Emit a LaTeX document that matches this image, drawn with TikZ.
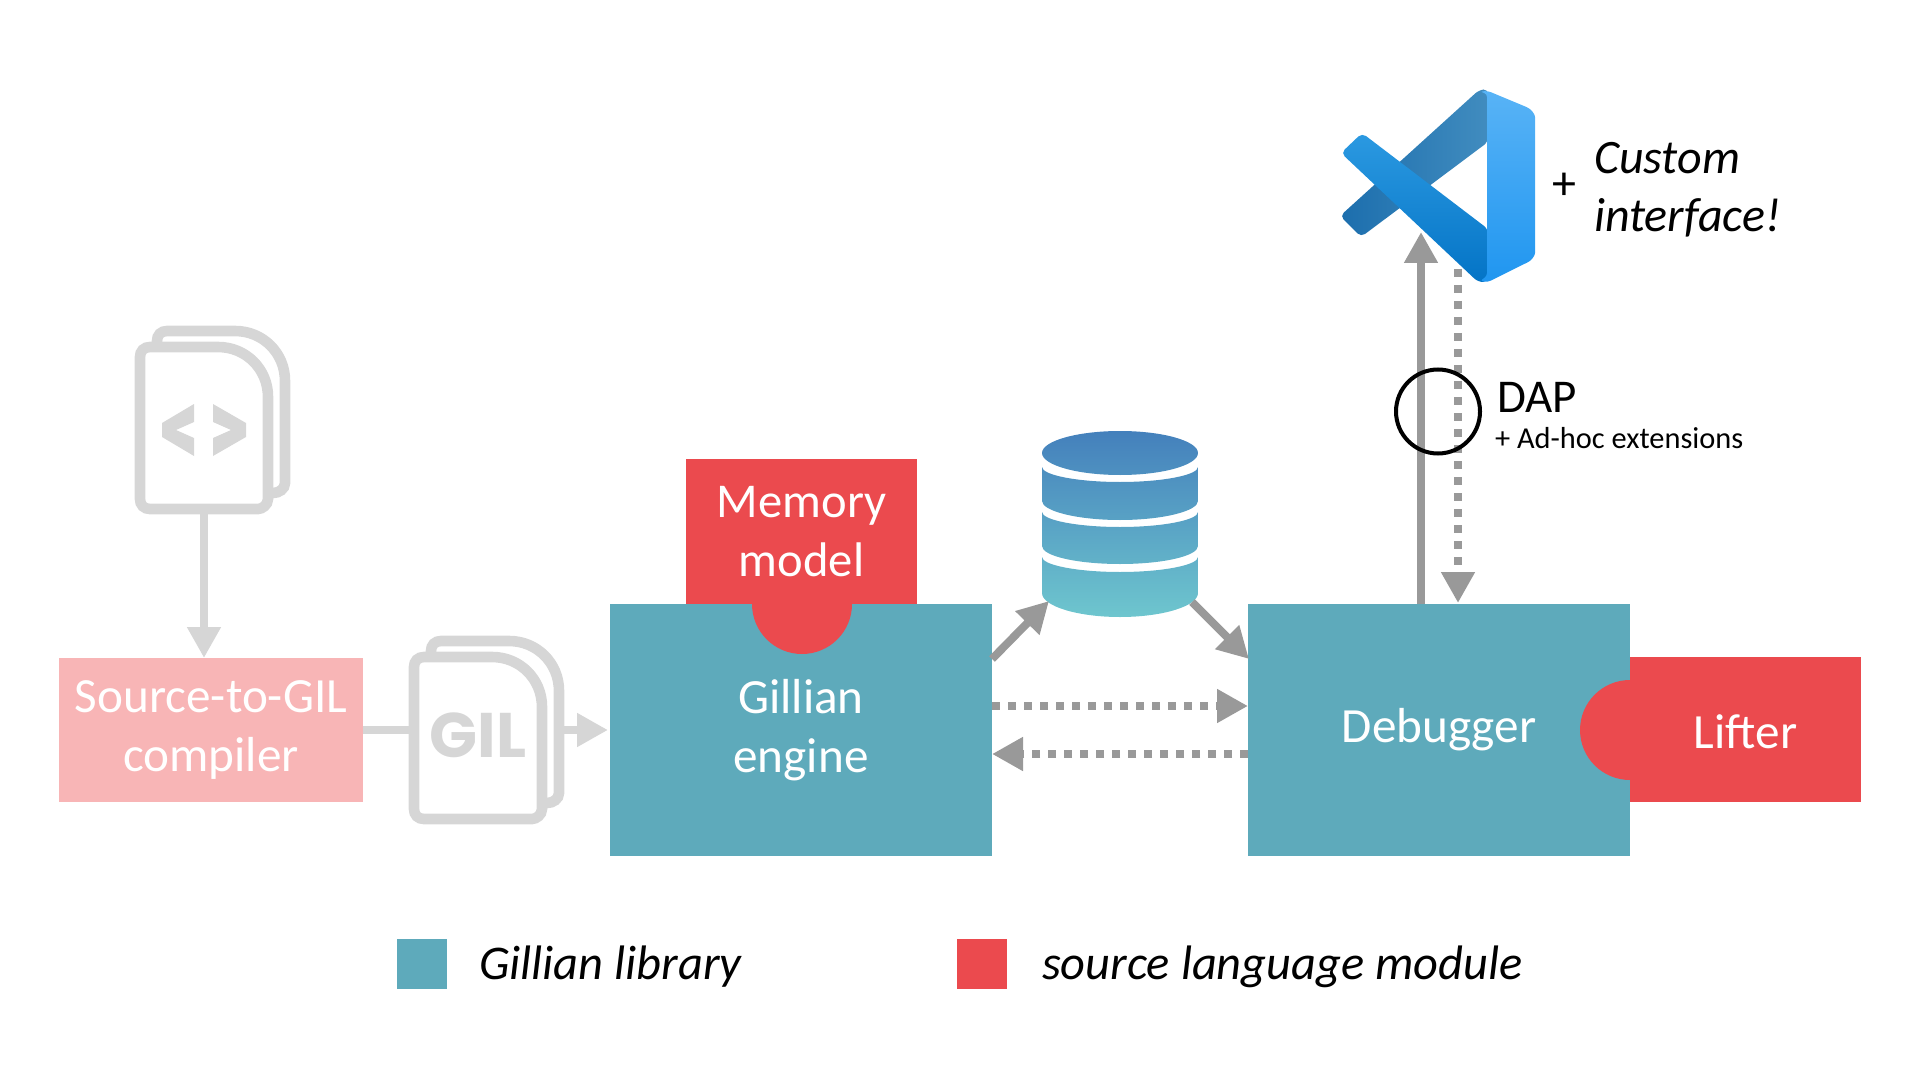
\documentclass[tikz,border=0pt]{standalone}
\usepackage{fontspec}
\setmainfont{Carlito}
\newfontfamily\gilfont{Poppins}
\usetikzlibrary{arrows.meta,calc}
\definecolor{teal1}{HTML}{5EAABB}
\definecolor{red1}{HTML}{EB4A4E}
\definecolor{pink1}{HTML}{F8B5B6}
\definecolor{docgray}{HTML}{D6D6D6}
\definecolor{arrgray}{HTML}{999999}
\definecolor{dbtop}{HTML}{4480BC}
\definecolor{dbbot}{HTML}{6EC6CE}
\definecolor{vsdarkL}{HTML}{1C6EAD}
\definecolor{vsdarkM}{HTML}{2A78B2}
\definecolor{vsdarkR}{HTML}{418CBF}
\definecolor{vsfrontT}{HTML}{2B99E1}
\definecolor{vsfrontB}{HTML}{0474C6}
\definecolor{vspanelT}{HTML}{58B3F6}
\definecolor{vspanelB}{HTML}{2096F0}
\tikzset{
  px/.style={x=0.5pt,y=-0.5pt},
  blockbox/.style={fill=#1,text=white,align=center,inner sep=0pt,outer sep=0pt,
    font=\fontsize{24.6}{29.6}\selectfont},
  bigbox/.style={blockbox=teal1,minimum width=191pt,minimum height=126pt},
  modbox/.style={blockbox=#1,minimum width=115.5pt,minimum height=72.5pt},
  notch/.style={circle,fill=red1,minimum size=50pt,inner sep=0pt},
  ghostbox/.style={inner sep=0pt,outer sep=0pt,minimum width=69pt,minimum height=86pt},
  tipbig/.style={-{Triangle[length=15.5pt,width=16pt]}},
  solidarrow/.style={draw=arrgray,line width=4pt,tipbig},
  dotarrow/.style={draw=arrgray,line width=4pt,tipbig,dash pattern=on 4pt off 4pt},
  grayarrow/.style={draw=docgray,line width=4pt},
  plain/.style={inner sep=0pt,outer sep=0pt},
  docpage/.pic={
    \draw[docgray,line width=5.3pt]
      (10,0) -- (78,0) .. controls (106,0) and (128,22) .. (128,50) -- (128,152)
      .. controls (128,158) and (122,162) .. (118,162) -- (10,162)
      .. controls (4,162) and (0,158) .. (0,152) -- (0,10)
      .. controls (0,4) and (4,0) .. (10,0) -- cycle;
    \draw[docgray,line width=5.3pt]
      (17,-5) -- (17,-6) .. controls (17,-12) and (21,-16) .. (27,-16) -- (95,-16)
      .. controls (123,-16) and (145,6) .. (145,34) -- (145,136)
      .. controls (145,142) and (139,146) .. (133,146) -- (128,146);
  }
}
\begin{document}
\begin{tikzpicture}[px]
\useasboundingbox (0,0) rectangle (1920,1080);
% blocks
\node[bigbox] (engine) at (801,730) {Gillian\\engine};
\node[bigbox,text depth=5.6pt,text height=18pt] (debugger) at (1439,730) {Debugger};
\node[notch] (memnotch) at (802,604) {};
\node[modbox=red1,font=\fontsize{24.3}{29.7}\selectfont] (memory) at (801.5,531.5) {Memory\\model};
\node[notch] (liftnotch) at (1630,730) {};
\node[modbox=red1,text height=19pt,text depth=0pt] (lifter) at (1745.5,729.5) {Lifter};
\node[blockbox=pink1,minimum width=152pt,minimum height=72pt] (source) at (211,730) {Source-to-GIL\\compiler};
% documents
\pic at (140,347) {docpage};
\pic at (414,657) {docpage};
\node[ghostbox] (srcdoc) at (204,428) {};
\node[ghostbox] (gildoc) at (478,738) {};
\coordinate (gilright) at (564,730);
\node[plain,text=docgray] (giltext) at (478,735) {\fontsize{31.5}{31.5}\selectfont\gilfont\bfseries GIL};
\fill[docgray] (194,404) -- (162,423) -- (162,437) -- (194,456) -- (194,438) -- (176,430) -- (194,422) -- cycle;
\fill[docgray] (213,404) -- (246,423) -- (246,437) -- (213,456) -- (213,438) -- (231,430) -- (213,422) -- cycle;
% gray flows
\draw[grayarrow,tipbig] (srcdoc.south) -- (srcdoc.south |- source.north);
\draw[grayarrow] (source.east) -- (gildoc.west |- source.east);
\draw[grayarrow,tipbig,shorten >=1pt] (gilright) -- (engine.west);
% database
\begin{scope}
\clip (1042,453) .. controls (1042,441) and (1077,431) .. (1120,431) .. controls (1163,431) and (1198,441) .. (1198,453)
  .. controls (1198,465) and (1163,475) .. (1120,475) .. controls (1077,475) and (1042,465) .. (1042,453) -- cycle
  (1042,467) .. controls (1042,475) and (1077,482) .. (1120,482) .. controls (1163,482) and (1198,475) .. (1198,467)
  -- (1198,501) .. controls (1198,511) and (1163,520) .. (1120,520) .. controls (1077,520) and (1042,511) .. (1042,501) -- cycle
  (1042,512) .. controls (1042,520) and (1077,527) .. (1120,527) .. controls (1163,527) and (1198,520) .. (1198,512)
  -- (1198,546) .. controls (1198,556) and (1163,564) .. (1120,564) .. controls (1077,564) and (1042,556) .. (1042,546) -- cycle
  (1042,557) .. controls (1042,565) and (1077,572) .. (1120,572) .. controls (1163,572) and (1198,565) .. (1198,557)
  -- (1198,593) .. controls (1198,606) and (1163,617) .. (1120,617) .. controls (1077,617) and (1042,606) .. (1042,593) -- cycle;
\shade[top color=dbtop,bottom color=dbbot] (1042,431) rectangle (1198,617);
\end{scope}
\node[plain,minimum width=78pt,minimum height=93pt] (db) at (1120,524) {};
% flows
\coordinate (dbin) at (1049,601);
\coordinate (dbout) at (1192,602);
\coordinate (enginediag) at (992,659);
\coordinate (debugdiag) at (1249,659);
\draw[solidarrow] (enginediag) -- (dbin);
\draw[solidarrow] (dbout) -- (debugdiag);
\draw[dotarrow] (992,706) -- (1248,706);
\draw[dotarrow] (1248,754) -- (992,754);
% vscode icon
\coordinate (vsup) at (1421,232);
\coordinate (vsdown) at (1458,269);
\draw[solidarrow] (debugger.north -| vsup) -- (vsup);
\draw[dotarrow,shorten >=0.5pt] (vsdown) -- (vsdown |- debugger.north);
\shade[left color=vsdarkL,middle color=vsdarkM,right color=vsdarkR,rounded corners=2.5pt]
  (1488,89) -- (1488,142) -- (1361,237) -- (1340,216) -- (1479,90) -- cycle;
\shade[top color=vsfrontT,bottom color=vsfrontB,rounded corners=2.5pt]
  (1362,133) -- (1341,153) -- (1478,282) -- (1488,282) -- (1488,229) -- cycle;
\shade[top color=vspanelT,bottom color=vspanelB,rounded corners=1.5pt]
  (1487,94) -- (1487,276) -- (1480,281) -- (1488,282) -- (1524,264)
  .. controls (1531,261) and (1535,256) .. (1535,250) -- (1535,120)
  .. controls (1535,114) and (1531,109) .. (1524,106) -- (1488,91) -- (1480,91.5) -- cycle;
\node[plain,font=\fontsize{24}{24}\selectfont] (plus) at (1564,186) {+};
\node[plain,font=\fontsize{24}{29}\selectfont\itshape,align=left,anchor=west] (custom) at (1594,189.5) {Custom\\interface!};
% DAP
\node[circle,draw=black,line width=2pt,minimum size=42pt,inner sep=0pt,fill=none] (dap) at (1438,411.5) {};
\node[plain,font=\fontsize{23.5}{24}\selectfont,anchor=base west] (daptext) at (1497,412) {DAP};
\node[plain,font=\fontsize{15.2}{18}\selectfont,anchor=base west] (dapsub) at (1495,448) {+ Ad-hoc extensions};
% legend
\node[plain,fill=teal1,minimum size=25pt] (legteal) at (422,964) {};
\node[plain,fill=red1,minimum size=25pt] (legred) at (982,964) {};
\node[plain,font=\fontsize{24.2}{24}\selectfont\itshape,anchor=west] (legt1) at (479,966.5) {Gillian library};
\node[plain,font=\fontsize{24.2}{24}\selectfont\itshape,anchor=west] (legt2) at (1042,966.5) {source language module};
\end{tikzpicture}
\end{document}
